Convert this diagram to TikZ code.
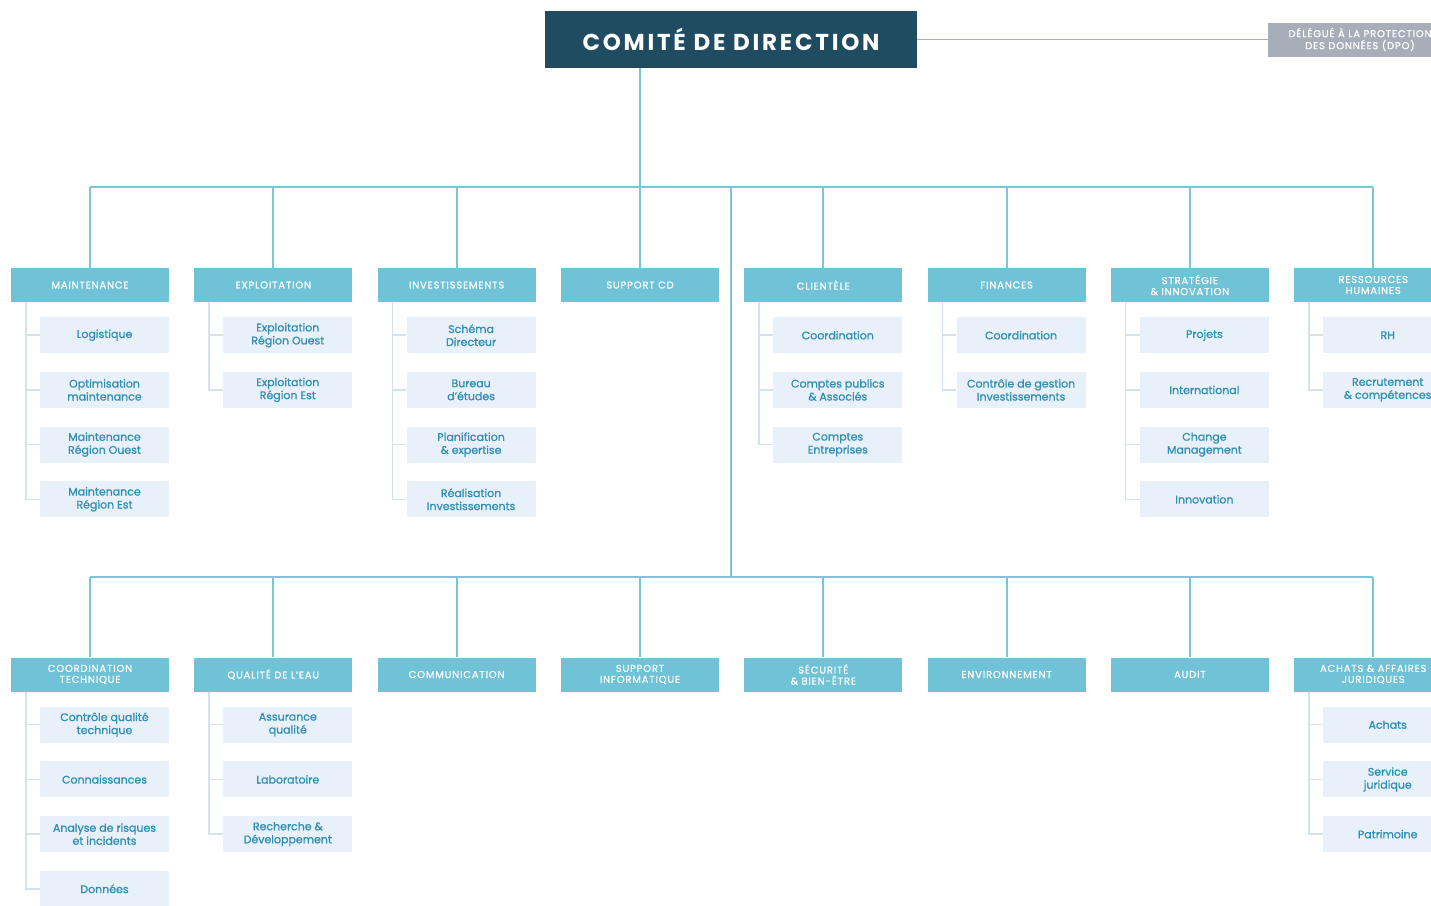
\documentclass[tikz,border=0pt]{standalone}
\usepackage{fontspec}
\setmainfont{Poppins}
\newfontfamily\hdrfont[LetterSpace=8,FakeBold=0.6]{Poppins}
\newfontfamily\itemfont[FakeBold=1]{Poppins}
\newfontfamily\titlefont[LetterSpace=12]{Poppins}
\usetikzlibrary{calc}
\definecolor{darkc}{HTML}{1F4C61}
\definecolor{hdrc}{HTML}{70C2D6}
\definecolor{linkc}{HTML}{7CC5D8}
\definecolor{itemc}{HTML}{E8F1F9}
\definecolor{itemtxt}{HTML}{2F8FB5}
\definecolor{dpoc}{HTML}{A7AEBA}
\definecolor{sublinkc}{HTML}{D4E3EA}
\definecolor{graylinkc}{HTML}{A9B0BA}
\tikzset{
  topbox/.style={fill=darkc, text=white, minimum width=372pt, minimum height=57pt, inner sep=0pt,
    font=\titlefont\bfseries\fontsize{23}{25}\selectfont},
  dpobox/.style={fill=dpoc, text=white, minimum width=184pt, minimum height=34pt, inner sep=0pt, align=center,
    font=\hdrfont\fontsize{10}{12}\selectfont},
  hdr/.style={fill=hdrc, text=white, minimum width=158pt, minimum height=34pt, inner sep=0pt, align=center,
    font=\hdrfont\fontsize{10}{11}\selectfont},
  item/.style={fill=itemc, text=itemtxt, minimum width=129pt, minimum height=36pt, inner sep=0pt, align=center,
    font=\itemfont\fontsize{11}{13}\selectfont},
  link/.style={draw=linkc, line width=2pt},
  sublink/.style={draw=sublinkc, line width=1.5pt},
  graylink/.style={draw=graylinkc, line width=1.5pt}
}
\newcommand\orgbranch[2]{%
  \coordinate (#1v) at ($(#1.south west)+(15,0)$);
  \foreach [count=\k] \t in {#2} {
    \node[item] (#1-\k) at ($(#1.south)+(14.5,{33+54.7*(\k-1)})$) {\t};
    \draw[sublink] (#1v) |- (#1-\k.west);
  }
}
\begin{document}
\begin{tikzpicture}[x=1pt,y=-1pt]
\useasboundingbox (0,0) rectangle (1431,905);
\clip (0,0) rectangle (1431,905);
\fill[white] (0,0) rectangle (1431,905);

% top
\node[topbox] (cd) at (731,39.5) {COMITÉ DE DIRECTION};
\node[dpobox] (dpo) at (1360,39.5) {DÉLÉGUÉ À LA PROTECTION\\DES DONNÉES (DPO)};
\draw[graylink] (cd.east) -- (dpo.west);

% row 1 headers
\node[hdr] (h1) at (90,285) {MAINTENANCE};
\node[hdr] (h2) at (273.3,285) {EXPLOITATION};
\node[hdr] (h3) at (456.6,285) {INVESTISSEMENTS};
\node[hdr] (h4) at (640,285) {SUPPORT CD};
\node[hdr] (h5) at (823.3,285) {CLIENTÈLE};
\node[hdr] (h6) at (1006.6,285) {FINANCES};
\node[hdr] (h7) at (1189.9,285) {STRATÉGIE\\\& INNOVATION};
\node[hdr] (h8) at (1373.2,285) {RESSOURCES\\HUMAINES};

% row 2 headers
\node[hdr] (g1) at (90,674.5) {COORDINATION\\TECHNIQUE};
\node[hdr] (g2) at (273.3,674.5) {QUALITÉ DE L’EAU};
\node[hdr] (g3) at (456.6,674.5) {COMMUNICATION};
\node[hdr] (g4) at (640,674.5) {SUPPORT\\INFORMATIQUE};
\node[hdr] (g5) at (823.3,674.5) {SÉCURITÉ\\\& BIEN-ÊTRE};
\node[hdr] (g6) at (1006.6,674.5) {ENVIRONNEMENT};
\node[hdr] (g7) at (1189.9,674.5) {AUDIT};
\node[hdr] (g8) at (1373.2,674.5) {ACHATS \& AFFAIRES\\JURIDIQUES};

% trunk
\coordinate (j1) at (640,187);
\coordinate (j2) at (731,577);
\draw[link] (j1 |- cd.south) -- (j1);
\draw[link] (h1.north |- j1) -- (h8.north |- j1);
\draw[link] (j2 |- j1) -- (j2);
\draw[link] (g1.north |- j2) -- (g8.north |- j2);
\foreach \i in {1,...,8} {
  \draw[link] (h\i.north |- j1) -- (h\i.north);
  \draw[link] (g\i.north |- j2) -- (g\i.north);
}

% branches row 1
\orgbranch{h1}{Logistique, Optimisation\\maintenance, Maintenance\\Région Ouest, Maintenance\\Région Est}
\orgbranch{h2}{Exploitation\\Région Ouest, Exploitation\\Région Est}
\orgbranch{h3}{Schéma\\Directeur, Bureau\\d’études, Planification\\\& expertise, Réalisation\\Investissements}
\orgbranch{h5}{Coordination, Comptes publics\\\& Associés, Comptes\\Entreprises}
\orgbranch{h6}{Coordination, Contrôle de gestion\\Investissements}
\orgbranch{h7}{Projets, International, Change\\Management, Innovation}
\orgbranch{h8}{RH, Recrutement\\\& compétences}

% branches row 2
\orgbranch{g1}{Contrôle qualité\\technique, Connaissances, Analyse de risques\\et incidents, Données}
\orgbranch{g2}{Assurance\\qualité, Laboratoire, Recherche \&\\Développement}
\orgbranch{g8}{Achats, Service\\juridique, Patrimoine}
\end{tikzpicture}
\end{document}
